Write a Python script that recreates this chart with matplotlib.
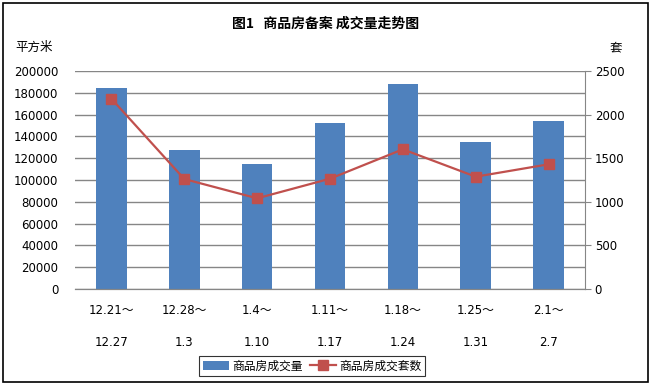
import numpy as np
import matplotlib.pyplot as plt
from matplotlib.patches import Rectangle

plt.rcParams['font.family'] = ['DejaVu Sans', 'Noto Sans CJK SC']

# data
weeks_start = ['12.21～', '12.28～', '1.4～', '1.11～', '1.18～', '1.25～', '2.1～']
weeks_end = ['12.27', '1.3', '1.10', '1.17', '1.24', '1.31', '2.7']
area = [184400, 127500, 114700, 152300, 188100, 134900, 154100]   # 平方米
units = [2182, 1261, 1040, 1265, 1602, 1288, 1430]               # 套

bar_color = '#4F81BD'
line_color = '#C0504D'
grid_color = '#868686'

fig = plt.figure(figsize=(6.51, 3.85), dpi=100)
ax = fig.add_axes([75/651, 1-289/385, 510/651, 218/385])
ax2 = ax.twinx()

x = np.arange(len(area))
ax.bar(x, area, width=0.42, color=bar_color, zorder=2, label='商品房成交量')
ax2.plot(x, units, color=line_color, lw=1.6, marker='s', ms=6.5, zorder=3,
         label='商品房成交套数')

ax.set_xlim(-0.5, len(area) - 0.5)
ax.set_ylim(0, 200000)
ax.set_yticks(np.arange(0, 200001, 20000))
ax2.set_ylim(0, 2500)
ax2.set_yticks(np.arange(0, 2501, 500))
ax.yaxis.grid(True, color=grid_color, lw=1, zorder=0)
ax.set_axisbelow(True)

for a in (ax, ax2):
    for s in ('top', 'left'):
        a.spines[s].set_visible(False)
    a.spines['bottom'].set_color(grid_color)
    a.spines['right'].set_color(grid_color)
ax.spines['right'].set_visible(False)

ax.tick_params(axis='y', length=0, labelsize=8.5, pad=12)
ax2.tick_params(axis='y', length=4, color=grid_color, labelsize=8.5, pad=3)
ax.tick_params(axis='x', length=0, labelsize=8.5, pad=11)
ax.set_xticks(x)
ax.set_xticklabels([s + '\n\n' + e for s, e in zip(weeks_start, weeks_end)],
                   linespacing=1.3)

fig.text(0.5, 1-24/385, '图1   商品房备案 成交量走势图', ha='center', va='center',
         fontsize=10, fontweight='bold', family=['Noto Sans CJK SC'])
fig.text(15/651, 1-47/385, '平方米', ha='left', va='center', fontsize=9,
         family=['Noto Sans CJK SC'])
fig.text(616/651, 1-48/385, '套', ha='center', va='center', fontsize=9,
         family=['Noto Sans CJK SC'])

h1, l1 = ax.get_legend_handles_labels()
h2, l2 = ax2.get_legend_handles_labels()
leg = fig.legend(h1 + h2, l1 + l2, loc='center', bbox_to_anchor=(312/651, 1-366/385),
                 ncol=2, frameon=True, fancybox=False, edgecolor='black',
                 handlelength=2.2, columnspacing=0.6, handletextpad=0.3,
                 borderpad=0.3, prop={'family': ['Noto Sans CJK SC'], 'size': 8.5})
leg.get_frame().set_linewidth(0.8)

fig.patches.append(Rectangle((3/651, 3/385), 645/651, 379/385, transform=fig.transFigure,
                             fill=False, edgecolor='black', lw=1.2))

fig.savefig('out.png', dpi=100)
